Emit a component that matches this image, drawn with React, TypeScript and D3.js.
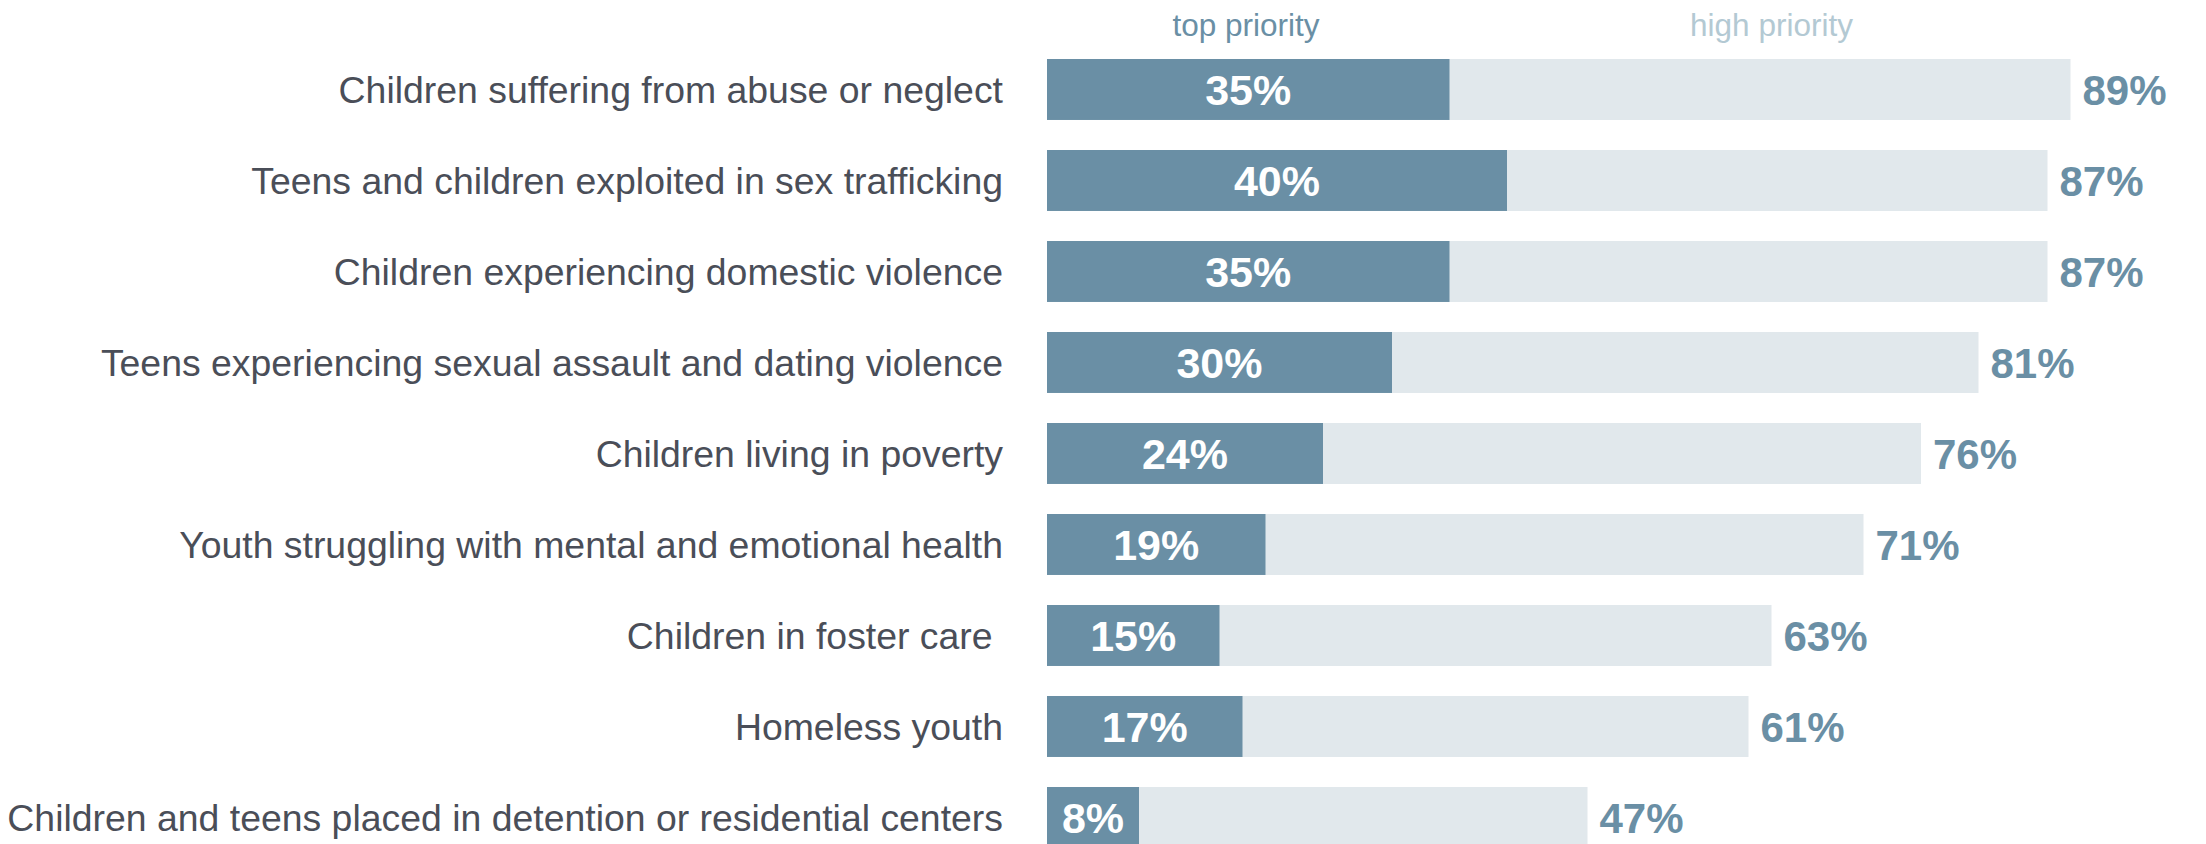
import React, { useEffect, useRef } from "react";
import * as d3 from "d3";

const categories = [
  "Children suffering from abuse or neglect",
  "Teens and children exploited in sex trafficking",
  "Children experiencing domestic violence",
  "Teens experiencing sexual assault and dating violence",
  "Children living in poverty",
  "Youth struggling with mental and emotional health",
  "Children in foster care ",
  "Homeless youth",
  "Children and teens placed in detention or residential centers",
];
const topPriority = [35, 40, 35, 30, 24, 19, 15, 17, 8];
const highPriority = [89, 87, 87, 81, 76, 71, 63, 61, 47];
const seriesNames = ["top priority", "high priority"];

const WIDTH = 2206;
const HEIGHT = 844;

export default function App() {
  const ref = useRef<SVGSVGElement>(null);

  useEffect(() => {
    const svg = d3.select(ref.current);
    svg.selectAll("*").remove();

    const data = categories.map((c, i) => ({
      name: c,
      top: topPriority[i],
      high: highPriority[i],
    }));

    // x scale: percent -> pixels
    const x = d3.scaleLinear().domain([0, 100]).range([1047, 2197]);

    // y scale: one band per category
    const y = d3
      .scaleBand()
      .domain(categories)
      .range([59, 59 + 91 * (categories.length - 0.33)])
      .paddingInner(0.33)
      .paddingOuter(0);

    const font = "'Liberation Sans', Arial, Helvetica, sans-serif";
    const g = svg.append("g").attr("font-family", font);

    // legend
    g.append("text")
      .attr("x", x(17.3))
      .attr("y", 36)
      .attr("text-anchor", "middle")
      .attr("font-size", 31.5)
      .attr("fill", "#6a8fa5")
      .text(seriesNames[0]);
    g.append("text")
      .attr("x", x(63))
      .attr("y", 36)
      .attr("text-anchor", "middle")
      .attr("font-size", 31.5)
      .attr("fill", "#b3c9d3")
      .text(seriesNames[1]);

    // category labels
    g.selectAll(".cat")
      .data(data)
      .enter()
      .append("text")
      .attr("class", "cat")
      .attr("x", 1003)
      .attr("y", d => y(d.name)! + y.bandwidth() / 2)
      .attr("dy", "0.36em")
      .attr("text-anchor", "end")
      .attr("font-size", 37.4)
      .attr("fill", "#4a4e58")
      .style("white-space", "pre")
      .text(d => d.name);

    // light bars (high priority)
    g.selectAll(".high")
      .data(data)
      .enter()
      .append("rect")
      .attr("class", "high")
      .attr("x", x(0))
      .attr("y", d => y(d.name)!)
      .attr("height", y.bandwidth())
      .attr("width", d => x(d.high) - x(0))
      .attr("fill", "#e1e8ec");

    // dark bars (top priority)
    g.selectAll(".top")
      .data(data)
      .enter()
      .append("rect")
      .attr("class", "top")
      .attr("x", x(0))
      .attr("y", d => y(d.name)!)
      .attr("height", y.bandwidth())
      .attr("width", d => x(d.top) - x(0))
      .attr("fill", "#6a8fa5");

    // value labels inside dark bars
    g.selectAll(".topLabel")
      .data(data)
      .enter()
      .append("text")
      .attr("class", "topLabel")
      .attr("x", d => (x(0) + x(d.top)) / 2)
      .attr("y", d => y(d.name)! + y.bandwidth() / 2)
      .attr("dy", "0.35em")
      .attr("text-anchor", "middle")
      .attr("font-size", 43)
      .attr("font-weight", "bold")
      .attr("fill", "#ffffff")
      .text(d => d.top + "%");

    // value labels after light bars
    g.selectAll(".highLabel")
      .data(data)
      .enter()
      .append("text")
      .attr("class", "highLabel")
      .attr("x", d => x(d.high) + 12)
      .attr("y", d => y(d.name)! + y.bandwidth() / 2)
      .attr("dy", "0.37em")
      .attr("font-size", 42)
      .attr("font-weight", "bold")
      .attr("fill", "#6a8fa5")
      .text(d => d.high + "%");
  }, []);

  return (
    <svg
      ref={ref}
      width={WIDTH}
      height={HEIGHT}
      style={{ position: "absolute", left: 0, top: 0, background: "#fff" }}
    />
  );
}
